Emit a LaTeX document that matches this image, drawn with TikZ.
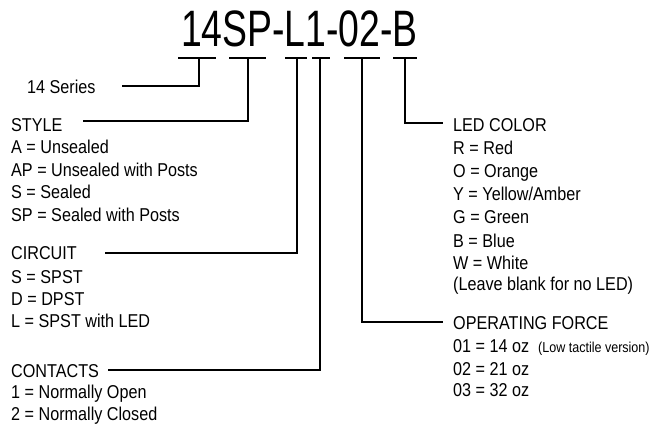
\documentclass[tikz,border=0pt]{standalone}
\usepackage{fontspec}
\setmainfont{Liberation Sans}[FakeStretch=0.87]
\newfontfamily\titlefont{Liberation Sans}[FakeStretch=0.73]
\begin{document}
\begin{tikzpicture}[x=1pt,y=-1pt,
  txt/.style={anchor=base west,inner sep=0pt,font=\fontsize{18.6}{22}\selectfont},
  small/.style={anchor=base west,inner sep=0pt,font=\fontsize{14.4}{16}\selectfont},
  ttl/.style={anchor=base,inner sep=0pt,font=\titlefont\fontsize{51.2}{56}\selectfont},
  conn/.style={draw=black,line width=1.2pt}]
\useasboundingbox (0,0) rectangle (652,425);
% title
\node[ttl] (title) at (299.5,46.7) {14SP-L1-02-B};
% tick centres
\coordinate (t1) at (199,58);
\coordinate (t2) at (248,58);
\coordinate (t3) at (297,58);
\coordinate (t4) at (320,58);
\coordinate (t5) at (362,58);
\coordinate (t6) at (405,58);
% tick bars
\draw[conn] ([xshift=-21pt]t1) -- ([xshift=17pt]t1);
\draw[conn] ([xshift=-19pt]t2) -- ([xshift=18pt]t2);
\draw[conn] ([xshift=-12pt]t3) -- ([xshift=10pt]t3);
\draw[conn] ([xshift=-8pt]t4) -- ([xshift=10pt]t4);
\draw[conn] ([xshift=-18pt]t5) -- ([xshift=18pt]t5);
\draw[conn] ([xshift=-12pt]t6) -- ([xshift=12pt]t6);
% left texts
\node[txt] (series) at (27,93) {14 Series};
\node[txt] (style) at (11,131) {STYLE};
\node[txt] (s1) at (11,153) {A = Unsealed};
\node[txt] (s2) at (11,176) {AP = Unsealed with Posts};
\node[txt] (s3) at (11,198) {S = Sealed};
\node[txt] (s4) at (11,221) {SP = Sealed with Posts};
\node[txt] (circuit) at (11,259) {CIRCUIT};
\node[txt] (c1) at (11,283) {S = SPST};
\node[txt] (c2) at (11,305) {D = DPST};
\node[txt] (c3) at (11,327) {L = SPST with LED};
\node[txt] (contacts) at (11,377) {CONTACTS};
\node[txt] (k1) at (11,398.5) {1 = Normally Open};
\node[txt] (k2) at (11,420) {2 = Normally Closed};
% right texts
\node[txt] (led) at (453,131) {LED COLOR};
\node[txt] (l1) at (453,154) {R = Red};
\node[txt] (l2) at (453,177) {O = Orange};
\node[txt] (l3) at (453,200) {Y = Yellow/Amber};
\node[txt] (l4) at (453,223) {G = Green};
\node[txt] (l5) at (453,247) {B = Blue};
\node[txt] (l6) at (453,269) {W = White};
\node[txt] (l7) at (453,290) {(Leave blank for no LED)};
\node[txt] (force) at (453,329) {OPERATING FORCE};
\node[txt] (f1) at (453,352.7) {01 = 14 oz};
\node[small] (f1n) at (538,352.7) {(Low tactile version)};
\node[txt] (f2) at (453,375) {02 = 21 oz};
\node[txt] (f3) at (453,396.5) {03 = 32 oz};
% connector ends
\coordinate (e1) at (122,86);
\coordinate (e2) at (83,121);
\coordinate (e3) at (105,253);
\coordinate (e4) at (108,370);
\coordinate (e5) at (443,322);
\coordinate (e6) at (443,123);
% connectors
\draw[conn] (t1) |- (e1);
\draw[conn] (t2) |- (e2);
\draw[conn] (t3) |- (e3);
\draw[conn] (t4) |- (e4);
\draw[conn] (t5) |- (e5);
\draw[conn] (t6) |- (e6);
\end{tikzpicture}
\end{document}
